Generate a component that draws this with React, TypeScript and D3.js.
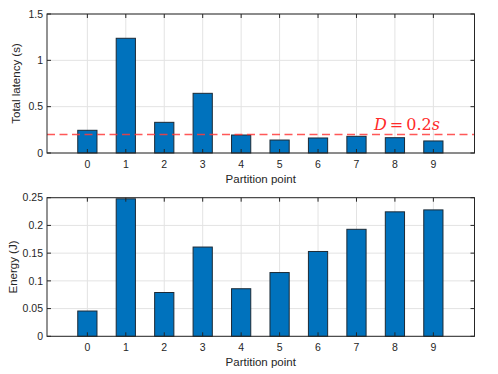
import React from 'react';
import * as d3 from 'd3';

const points = [0, 1, 2, 3, 4, 5, 6, 7, 8, 9];
const latency = [0.245, 1.238, 0.331, 0.644, 0.194, 0.14, 0.162, 0.18, 0.165, 0.13];
const energy = [0.0456, 0.248, 0.079, 0.161, 0.0858, 0.115, 0.153, 0.193, 0.2245, 0.228];
const latencyTicks = [0, 0.5, 1, 1.5];
const energyTicks = [0, 0.05, 0.1, 0.15, 0.2, 0.25];
const deadline = 0.2;

const W = 498, H = 374;
const axisColor = '#262626';
const barColor = '#0072BD';
const font = '"Liberation Sans", Arial, sans-serif';

function Panel({top, bottom, values, ticks, yMax, yLabel, yLabelX, fmt, threshold}) {
    const x = d3.scaleLinear().domain([-1.05, 10.07]).range([47, 474.5]);
    const y = d3.scaleLinear().domain([0, yMax]).range([bottom, top]);
    const barW = x(0.5) - x(0);
    const [x0, x1] = x.range();

    return (
        <g>
            {/* grid */}
            {points.map(p => (
                <line key={'gx' + p} x1={x(p)} x2={x(p)} y1={top} y2={bottom} stroke="#e3e3e3" strokeWidth={1} />
            ))}
            {ticks.map(t => (
                <line key={'gy' + t} x1={x0} x2={x1} y1={y(t)} y2={y(t)} stroke="#e3e3e3" strokeWidth={1} />
            ))}

            {/* bars */}
            {values.map((v, i) => (
                <rect key={i}
                      x={x(points[i]) - barW / 2}
                      y={y(v)}
                      width={barW}
                      height={bottom - y(v)}
                      fill={barColor}
                      stroke="#1c2a36"
                      strokeWidth={1} />
            ))}

            {threshold != null && (
                <g>
                    <line x1={x0} x2={x1} y1={y(threshold)} y2={y(threshold)}
                          stroke="#ff3b3b" strokeOpacity={0.85} strokeWidth={1.6} strokeDasharray="8,4.5" />
                    <text x={374} y={y(threshold) - 4} fill="#ff2a2a" fontSize={16}
                          fontFamily='"DejaVu Serif", "Liberation Serif", serif'>
                        <tspan fontStyle="italic">D</tspan>
                        <tspan dx={3}>=</tspan>
                        <tspan dx={3}>0.2</tspan>
                        <tspan fontStyle="italic">s</tspan>
                    </text>
                </g>
            )}

            {/* ticks, mirrored on all sides */}
            {points.map(p => (
                <g key={'tx' + p}>
                    <line x1={x(p)} x2={x(p)} y1={bottom} y2={bottom - 4} stroke={axisColor} />
                    <line x1={x(p)} x2={x(p)} y1={top} y2={top + 4} stroke={axisColor} />
                    <text x={x(p)} y={bottom + 14.5} textAnchor="middle" fontSize={10.5} fill={axisColor} fontFamily={font}>{p}</text>
                </g>
            ))}
            {ticks.map(t => (
                <g key={'ty' + t}>
                    <line x1={x0} x2={x0 + 4} y1={y(t)} y2={y(t)} stroke={axisColor} />
                    <line x1={x1} x2={x1 - 4} y1={y(t)} y2={y(t)} stroke={axisColor} />
                    <text x={x0 - 4} y={y(t) + 3.7} textAnchor="end" fontSize={10.5} fill={axisColor} fontFamily={font}>{fmt(t)}</text>
                </g>
            ))}

            <rect x={x0} y={top} width={x1 - x0} height={bottom - top} fill="none" stroke={axisColor} strokeWidth={1} />

            <text x={(x0 + x1) / 2} y={bottom + 29.5} textAnchor="middle" fontSize={11.5} fill={axisColor} fontFamily={font}>
                Partition point
            </text>
            <text transform={`translate(${yLabelX}, ${(top + bottom) / 2}) rotate(-90)`} textAnchor="middle"
                  fontSize={11.5} fill={axisColor} fontFamily={font}>
                {yLabel}
            </text>
        </g>
    );
}

export default function App() {
    return (
        <svg width={W} height={H} style={{position: 'absolute', left: 0, top: 0, background: '#fff'}}>
            <Panel top={14} bottom={153} values={latency} ticks={latencyTicks} yMax={1.5}
                   yLabel="Total latency (s)" yLabelX={20} fmt={d => String(d)} threshold={deadline} />
            <Panel top={197.7} bottom={336.3} values={energy} ticks={energyTicks} yMax={0.25}
                   yLabel="Energy (J)" yLabelX={17} fmt={d => String(d)} threshold={null} />
        </svg>
    );
}
